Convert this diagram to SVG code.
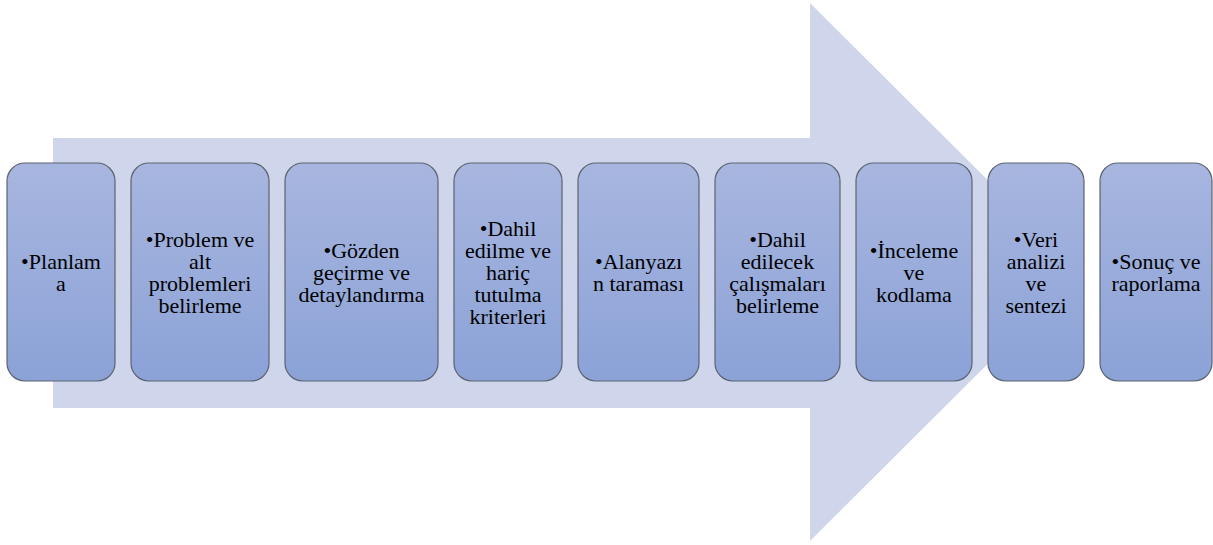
<svg xmlns="http://www.w3.org/2000/svg" width="1213" height="545" viewBox="0 0 1213 545">
<defs>
<linearGradient id="g" x1="0" y1="0" x2="0" y2="1">
<stop offset="0" stop-color="#A8B6DF"/>
<stop offset="1" stop-color="#8BA2D7"/>
</linearGradient>
<style>
.box{fill:url(#g);stroke:#5C6270;stroke-width:1.2}
.t{font-family:'Liberation Serif','Times New Roman',serif;font-size:22px;fill:#000;text-anchor:middle}
</style>
</defs>
<rect width="1213" height="545" fill="#FFFFFF"/>
<g id="arrow">
<polygon points="53,138 810,138 810,3 1080,272 810,541 810,408 53,408" fill="#CFD6EB"/>
</g>
<g id="connectors"></g>
<g id="n1"><rect class="box" x="7" y="163" width="108" height="218" rx="18"/>
<text class="t"><tspan x="61" y="269">•Planlam</tspan><tspan x="61" y="291">a</tspan></text></g>
<g id="n2"><rect class="box" x="131" y="163" width="138" height="218" rx="18"/>
<text class="t"><tspan x="200" y="247">•Problem ve</tspan><tspan x="200" y="269">alt</tspan><tspan x="200" y="291">problemleri</tspan><tspan x="200" y="313">belirleme</tspan></text></g>
<g id="n3"><rect class="box" x="285" y="163" width="153" height="218" rx="18"/>
<text class="t"><tspan x="361.5" y="258">•Gözden</tspan><tspan x="361.5" y="280">geçirme ve</tspan><tspan x="361.5" y="302">detaylandırma</tspan></text></g>
<g id="n4"><rect class="box" x="454" y="163" width="108" height="218" rx="18"/>
<text class="t"><tspan x="508" y="236">•Dahil</tspan><tspan x="508" y="258">edilme ve</tspan><tspan x="508" y="280">hariç</tspan><tspan x="508" y="302">tutulma</tspan><tspan x="508" y="324">kriterleri</tspan></text></g>
<g id="n5"><rect class="box" x="578" y="163" width="121" height="218" rx="18"/>
<text class="t"><tspan x="638.5" y="269">•Alanyazı</tspan><tspan x="638.5" y="291">n taraması</tspan></text></g>
<g id="n6"><rect class="box" x="715" y="163" width="125" height="218" rx="18"/>
<text class="t"><tspan x="777.5" y="247">•Dahil</tspan><tspan x="777.5" y="269">edilecek</tspan><tspan x="777.5" y="291">çalışmaları</tspan><tspan x="777.5" y="313">belirleme</tspan></text></g>
<g id="n7"><rect class="box" x="856" y="163" width="116" height="218" rx="18"/>
<text class="t"><tspan x="914" y="258">•İnceleme</tspan><tspan x="914" y="280">ve</tspan><tspan x="914" y="302">kodlama</tspan></text></g>
<g id="n8"><rect class="box" x="988" y="163" width="96" height="218" rx="18"/>
<text class="t"><tspan x="1036" y="247">•Veri</tspan><tspan x="1036" y="269">analizi</tspan><tspan x="1036" y="291">ve</tspan><tspan x="1036" y="313">sentezi</tspan></text></g>
<g id="n9"><rect class="box" x="1100" y="163" width="112" height="218" rx="18"/>
<text class="t"><tspan x="1156" y="269">•Sonuç ve</tspan><tspan x="1156" y="291">raporlama</tspan></text></g>
</svg>
